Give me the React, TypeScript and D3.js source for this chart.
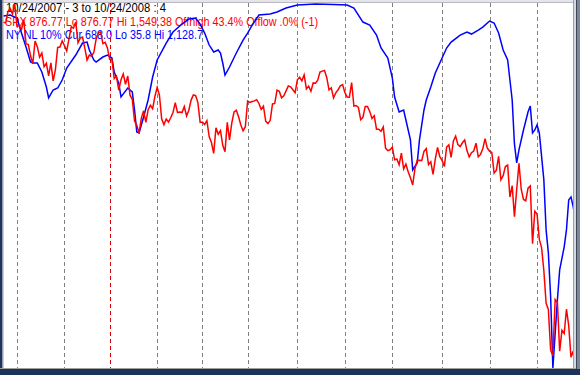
import * as d3 from 'd3'

// SPX daily closes, 10/24/2007 .. 10/24/2008 (one per trading day)
const spxClose: number[] = [
  1515.88, 1514.40, 1535.28, 1540.98, 1531.02, 1549.38,
  1508.44, 1509.65, 1502.17, 1520.27, 1475.62, 1474.77, 1453.70, 1439.18, 1481.05, 1470.58, 1451.15,
  1458.74, 1433.27, 1439.70, 1416.77, 1440.70, 1407.22, 1428.23, 1469.02, 1469.72, 1481.14,
  1472.42, 1462.79, 1485.01, 1507.34, 1504.66, 1515.96, 1477.65, 1486.59, 1488.41, 1467.95,
  1445.90, 1454.98, 1453.00, 1460.12, 1484.46, 1496.45, 1497.66, 1476.27, 1478.49, 1468.36,
  1447.16, 1447.16, 1411.63, 1416.18, 1390.19, 1409.13, 1420.33, 1401.02, 1416.25, 1380.95, 1373.20,
  1333.25, 1325.19, 1310.50, 1338.60, 1352.07, 1330.61, 1353.96, 1362.30, 1355.81, 1378.55,
  1395.42, 1380.82, 1336.64, 1326.45, 1336.91, 1331.29, 1339.13, 1348.86, 1367.21, 1348.86,
  1349.99, 1348.78, 1360.03, 1342.53, 1353.11, 1371.80, 1381.29, 1380.02, 1367.68, 1330.63,
  1331.34, 1326.75, 1333.70, 1304.34, 1293.37, 1273.37, 1320.65, 1308.77, 1315.48, 1288.14,
  1276.60, 1330.74, 1298.42, 1329.51, 1349.88, 1352.99, 1341.13, 1325.76, 1315.22, 1322.70,
  1370.18, 1367.53, 1369.31, 1370.40, 1372.54, 1365.54, 1354.49, 1360.55, 1332.83, 1328.32, 1334.43,
  1364.71, 1365.56, 1390.33, 1388.17, 1375.94, 1379.93, 1388.82, 1397.84, 1396.37, 1390.94, 1385.59,
  1409.34, 1413.90, 1407.49, 1418.26, 1392.57, 1397.68, 1388.28, 1403.58, 1403.04, 1408.66, 1423.57,
  1425.35, 1426.63, 1413.40, 1390.71, 1394.35, 1375.93, 1385.35, 1390.84, 1398.26, 1400.38,
  1385.67, 1377.65, 1377.20, 1404.05, 1360.68, 1361.76, 1358.44, 1335.49, 1339.87, 1360.03, 1360.14,
  1350.93, 1337.81, 1342.83, 1317.93, 1318.00, 1314.29, 1321.97, 1283.15, 1278.38, 1280.00,
  1284.91, 1261.52, 1262.90, 1252.31, 1273.70, 1244.69, 1253.39, 1239.49, 1228.30, 1214.91, 1245.36,
  1260.32, 1260.68, 1260.00, 1277.00, 1282.19, 1252.54, 1257.76, 1234.37, 1263.20, 1284.26, 1267.38,
  1260.31, 1249.01, 1284.88, 1289.19, 1266.07, 1296.32, 1305.32, 1289.59, 1285.83, 1292.93, 1298.20,
  1278.60, 1266.69, 1274.54, 1277.72, 1292.20, 1266.84, 1271.51, 1281.66, 1300.68, 1282.83,
  1277.58, 1274.98, 1236.83, 1242.31, 1267.79, 1224.51, 1232.04, 1249.05, 1251.70, 1192.70, 1213.60,
  1156.39, 1206.51, 1255.08, 1207.09, 1188.22, 1185.87, 1209.18, 1213.27, 1106.39, 1166.36,
  1161.06, 1114.28, 1099.23, 1056.89, 996.23, 984.94, 909.92, 899.22, 1003.35, 998.01, 907.84,
  946.43, 940.55, 985.40, 955.05, 896.78, 908.11, 876.77,
]

// NYSE new lows, 10 day average - trading day index + value
const nlDay: number[] = [
  0, 3, 6, 8, 10, 12, 13, 15, 17, 19, 20, 22, 24, 26, 28, 32, 35, 37, 38, 40,
  41, 44, 46, 48, 49, 51, 52, 55, 57, 58, 59, 60, 62, 64, 66, 68, 72, 75, 79, 82,
  85, 87, 89, 91, 93, 95, 96, 97, 98, 100, 103, 106, 108, 110, 113, 118, 121, 125, 130, 134,
  138, 146, 152, 155, 159, 162, 165, 167, 170, 172, 173, 175, 177, 178, 180, 181, 183, 184, 186, 187,
  189, 191, 194, 196, 198, 202, 205, 207, 210, 212, 215, 217, 219, 221, 223, 224, 225, 226, 227, 228,
  230, 232, 233, 234, 235, 236, 237, 239, 240, 241, 242, 243, 245, 246, 248, 249, 250, 251, 252, 253,
]
const nlValue: number[] = [
  72, 69, 78, 123, 165, 210, 213, 213, 240, 285, 318, 294, 288, 264, 228, 189, 153, 150, 174, 204,
  210, 195, 189, 198, 240, 273, 315, 288, 300, 354, 420, 423, 375, 324, 255, 204, 153, 120, 96, 81,
  78, 96, 123, 159, 180, 174, 183, 213, 249, 225, 183, 144, 123, 99, 69, 66, 60, 48, 39, 37,
  35.8, 37, 39, 48, 90, 99, 129, 168, 198, 258, 315, 360, 354, 384, 444, 534, 513, 444, 354, 324,
  285, 243, 198, 168, 150, 129, 120, 126, 114, 105, 87, 93, 123, 174, 204, 264, 324, 456, 513, 474,
  414, 360, 342, 423, 414, 399, 423, 564, 714, 783, 915, 1128.7, 924, 834, 765, 714, 624, 615, 645, 688,
]

// first trading day of each month (Jan = year start, drawn red)
const monthStart: number[] = [6, 27, 47, 68, 88, 108, 130, 151, 172, 194, 215, 236]
const yearStart = 47

const titleText = '10/24/2007 - 3 to 10/24/2008 : 4'
const spxText = 'SPX 876.77 Lo 876.77 Hi 1,549.38 Offhigh 43.4% Offlow .0% (-1)'
const nlText = 'NY NL 10% Cur 688.0 Lo 35.8 Hi 1,128.7'

export default function App() {
  const W = 580
  const H = 375

  const x = d3.scaleLinear().domain([0, spxClose.length - 1]).range([3.4, 575.5])
  const ySpx = d3.scaleLinear().domain([876.77, 1549.38]).range([368, 4])
  // new lows drawn inverted: more lows = lower on the chart
  const yNl = d3.scaleLinear().domain([35.8, 1128.7]).range([4, 368])

  const spxLine = d3.line<number>()
    .x((d, i) => x(i))
    .y((d) => ySpx(d))

  const nlLine = d3.line<number>()
    .x((d, i) => x(nlDay[i]))
    .y((d) => yNl(d))

  const font = '"Liberation Sans", Arial, sans-serif'

  return (
    <svg width={W} height={H} style={{ position: 'absolute', left: 0, top: 0 }}>
      <rect x={0} y={0} width={W} height={H} fill="#ffffff" />

      {/* month separators */}
      {monthStart.map((d) => (
        <line
          key={d}
          x1={Math.round(x(d)) + 0.5}
          x2={Math.round(x(d)) + 0.5}
          y1={3}
          y2={368}
          stroke={d === yearStart ? '#e00000' : '#808080'}
          strokeWidth={1}
          strokeDasharray="4,3"
        />
      ))}

      {/* header text */}
      <g fontFamily={font} fontSize={12}>
        <text x={6} y={12} fill="#000000" textLength={160} lengthAdjust="spacingAndGlyphs">{titleText}</text>
        <text x={5} y={26} fill="#ff0000" textLength={313} lengthAdjust="spacingAndGlyphs">{spxText}</text>
        <text x={6} y={39} fill="#0000ff" textLength={197} lengthAdjust="spacingAndGlyphs">{nlText}</text>
      </g>

      <path d={nlLine(nlValue) ?? ''} fill="none" stroke="#0000ff" strokeWidth={1.5} />
      <path d={spxLine(spxClose) ?? ''} fill="none" stroke="#ff0000" strokeWidth={1.5} />

      {/* window frame */}
      <rect x={0} y={0} width={W} height={2} fill="#e4e4ea" />
      <rect x={0} y={2} width={W} height={1} fill="#b8b8c0" />
      <rect x={0} y={0} width={2.5} height={H} fill="#1e3460" />
      <rect x={2.5} y={0} width={1} height={369} fill="#a0a0a0" />
      <rect x={573} y={0} width={1} height={369} fill="#a0a0a0" />
      <rect x={574} y={0} width={2} height={H} fill="#d4d8e0" />
      <rect x={576} y={0} width={1} height={H} fill="#404858" />
      <rect x={577} y={0} width={3} height={H} fill="#7c889c" />
      <rect x={0} y={368} width={576} height={1} fill="#a0a0a0" />
      <rect x={0} y={369} width={W} height={6} fill="#1e3158" />
    </svg>
  )
}
